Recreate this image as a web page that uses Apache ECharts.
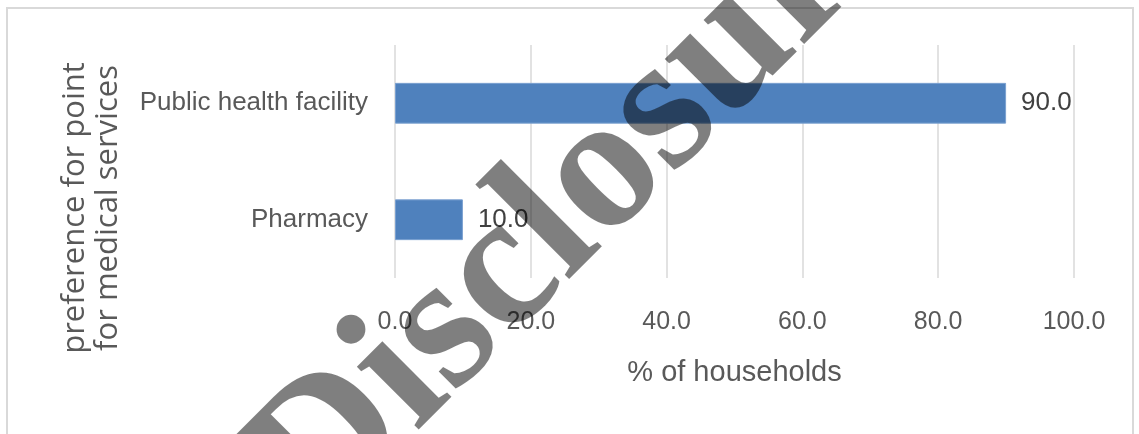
<!DOCTYPE html>
<html><head><meta charset="utf-8">
<script src="https://cdn.jsdelivr.net/npm/echarts@6/dist/echarts.min.js"></script>
<style>html,body{margin:0;padding:0;background:#fff}#c{width:1139px;height:434px}</style>
</head><body><div id="c"></div>
<script>
const categories = ['Public health facility', 'Pharmacy'];
const values = [90.0, 10.0];
const xTicks = [0, 20, 40, 60, 80, 100];
const yTitle = 'preference for point\nfor medical services';
const xTitle = '% of households';
const watermark = 'Disclosure';

const chart = echarts.init(document.getElementById('c'));
const narrow = '"Liberation Sans Narrow", "Arial Narrow", "Liberation Sans", sans-serif';
chart.setOption({
  animation: false,
  grid: { left: 395, right: 65, top: 45, bottom: 156, containLabel: false },
  xAxis: {
    type: 'value', min: xTicks[0], max: xTicks[xTicks.length - 1], interval: 20,
    axisLine: { show: false }, axisTick: { show: false },
    splitLine: { lineStyle: { color: '#d9d9d9', width: 1.5 } },
    axisLabel: { margin: 32, color: '#595959', fontFamily: narrow, fontSize: 25,
      formatter: v => v.toFixed(1) },
    name: xTitle, nameLocation: 'middle', nameGap: 80,
    nameTextStyle: { color: '#595959', fontFamily: narrow, fontSize: 29 }
  },
  yAxis: {
    type: 'category', data: categories, inverse: true,
    axisLine: { show: false }, axisTick: { show: false },
    axisLabel: { margin: 27, color: '#595959', fontFamily: narrow, fontSize: 26 }
  },
  series: [{
    type: 'bar', data: values, barWidth: '35%',
    itemStyle: { color: '#4f81bd', borderColor: '#7aa0d0', borderWidth: 1 },
    label: { show: true, position: 'right', distance: 15, color: '#404040',
      fontFamily: narrow, fontSize: 26, formatter: p => p.value.toFixed(1) }
  }],
  graphic: [
    { type: 'rect', shape: { x: 7, y: 8, width: 1126, height: 440 },
      style: { fill: 'none', stroke: '#d9d9d9', lineWidth: 2 }, z: 1 },
    { type: 'text', x: 92, y: 208, rotation: Math.PI / 2,
      style: { text: yTitle, fill: '#595959', font: '31px "Open Sans", sans-serif',
        align: 'center', verticalAlign: 'middle', lineHeight: 33 }, z: 10 },
    { type: 'text', x: 583, y: 195, rotation: Math.PI / 4,
      style: { text: watermark, fill: 'rgba(0,0,0,0.5)',
        font: 'bold 192px "Liberation Serif", "Times New Roman", serif',
        align: 'center', verticalAlign: 'middle' }, z: 100 }
  ]
});
</script></body></html>
